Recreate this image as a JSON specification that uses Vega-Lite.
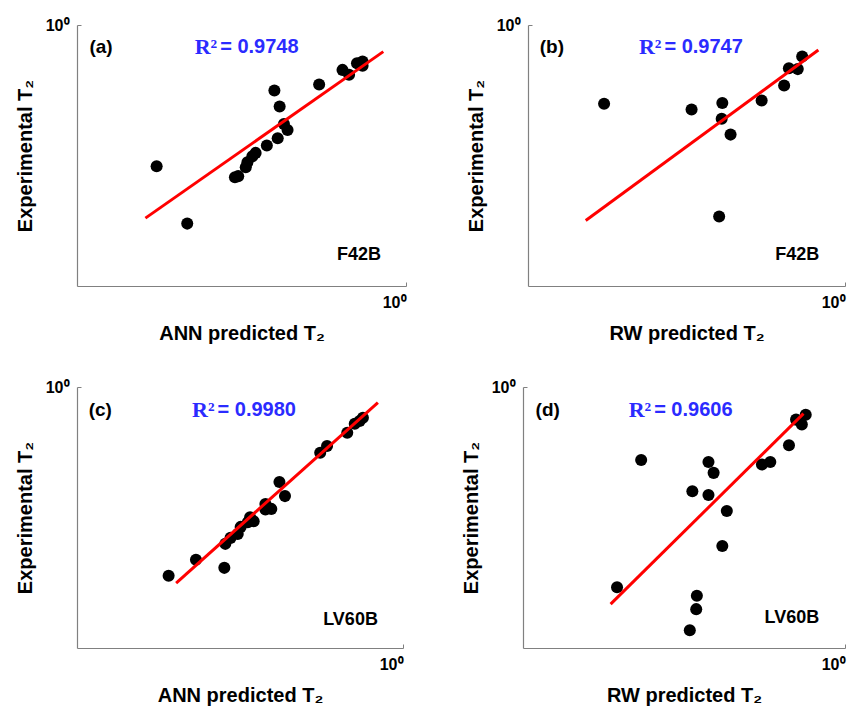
{
  "$schema": "https://vega.github.io/schema/vega-lite/v6.json",
  "background": "white",
  "padding": {"left": 15, "top": 17, "right": 5, "bottom": 5},
  "datasets": {
    "pts": [
      {"panel":"a","x":0.1746,"y":0.2877},{"panel":"a","x":0.2163,"y":0.1734},{"panel":"a","x":0.3020,"y":0.2612},{"panel":"a","x":0.3090,"y":0.2636},
      {"panel":"a","x":0.3258,"y":0.2851},{"panel":"a","x":0.3296,"y":0.2979},{"panel":"a","x":0.3412,"y":0.3141},{"panel":"a","x":0.3491,"y":0.3236},
      {"panel":"a","x":0.3776,"y":0.3451},{"panel":"a","x":0.4074,"y":0.3681},{"panel":"a","x":0.3981,"y":0.5610},{"panel":"a","x":0.4130,"y":0.4875},
      {"panel":"a","x":0.4256,"y":0.4178},{"panel":"a","x":0.4365,"y":0.3963},{"panel":"a","x":0.5445,"y":0.5916},{"panel":"a","x":0.6412,"y":0.6730},
      {"panel":"a","x":0.6714,"y":0.6442},{"panel":"a","x":0.7096,"y":0.7129},{"panel":"a","x":0.7379,"y":0.6982},{"panel":"a","x":0.7379,"y":0.7244},
      {"panel":"b","x":0.1738,"y":0.4989},{"panel":"b","x":0.3281,"y":0.4742},{"panel":"b","x":0.4102,"y":0.5023},{"panel":"b","x":0.4083,"y":0.4375},
      {"panel":"b","x":0.4355,"y":0.3802},{"panel":"b","x":0.4009,"y":0.1845},{"panel":"b","x":0.5458,"y":0.5140},{"panel":"b","x":0.6427,"y":0.5861},
      {"panel":"b","x":0.6653,"y":0.6823},{"panel":"b","x":0.7096,"y":0.6776},{"panel":"b","x":0.7328,"y":0.7568},
      {"panel":"c","x":0.1910,"y":0.1892},{"panel":"c","x":0.2317,"y":0.2178},{"panel":"c","x":0.2831,"y":0.2028},{"panel":"c","x":0.2851,"y":0.2506},
      {"panel":"c","x":0.2958,"y":0.2642},{"panel":"c","x":0.3112,"y":0.2735},{"panel":"c","x":0.3177,"y":0.2911},{"panel":"c","x":0.3342,"y":0.3034},
      {"panel":"c","x":0.3396,"y":0.3170},{"panel":"c","x":0.3483,"y":0.3062},{"panel":"c","x":0.3784,"y":0.3565},{"panel":"c","x":0.3784,"y":0.3396},
      {"panel":"c","x":0.3945,"y":0.3412},{"panel":"c","x":0.4178,"y":0.4325},{"panel":"c","x":0.4345,"y":0.3819},{"panel":"c","x":0.5572,"y":0.5598},
      {"panel":"c","x":0.5848,"y":0.5943},{"panel":"c","x":0.6745,"y":0.6683},{"panel":"c","x":0.7112,"y":0.7228},{"panel":"c","x":0.7362,"y":0.7413},
      {"panel":"c","x":0.7534,"y":0.7621},
      {"panel":"d","x":0.1959,"y":0.1710},{"panel":"d","x":0.2328,"y":0.5248},{"panel":"d","x":0.3296,"y":0.1169},{"panel":"d","x":0.3451,"y":0.1409},
      {"panel":"d","x":0.3467,"y":0.1585},{"panel":"d","x":0.3357,"y":0.3990},{"panel":"d","x":0.3767,"y":0.5164},{"panel":"d","x":0.3908,"y":0.4688},
      {"panel":"d","x":0.3767,"y":0.3855},{"panel":"d","x":0.4295,"y":0.3350},{"panel":"d","x":0.4159,"y":0.2460},{"panel":"d","x":0.5521,"y":0.5047},
      {"panel":"d","x":0.5861,"y":0.5164},{"panel":"d","x":0.6699,"y":0.5984},{"panel":"d","x":0.7047,"y":0.7499},{"panel":"d","x":0.7345,"y":0.7178},
      {"panel":"d","x":0.7551,"y":0.7834}
    ],
    "fit": [
      {"panel":"a","x":0.1614,"y":0.1820},{"panel":"a","x":0.8531,"y":0.7907},
      {"panel":"b","x":0.1521,"y":0.1782},{"panel":"b","x":0.8241,"y":0.8017},
      {"panel":"c","x":0.2014,"y":0.1774},{"panel":"c","x":0.8375,"y":0.8710},
      {"panel":"d","x":0.1871,"y":0.1472},{"panel":"d","x":0.7430,"y":0.7907}
    ],
    "ann": [
      {"panel":"a","kind":"tag","x":0.1091,"y":0.826,"text":"(a)"},
      {"panel":"a","kind":"r2s","x":0.2667,"y":0.826,"text":"R²"},
      {"panel":"a","kind":"r2v","x":0.2667,"y":0.826,"text":"= 0.9748"},
      {"panel":"a","kind":"name","x":0.8395,"y":0.1309,"text":"F42B"},
      {"panel":"b","kind":"tag","x":0.1089,"y":0.8204,"text":"(b)"},
      {"panel":"b","kind":"r2s","x":0.2636,"y":0.8204,"text":"R²"},
      {"panel":"b","kind":"r2v","x":0.2636,"y":0.8204,"text":"= 0.9747"},
      {"panel":"b","kind":"name","x":0.8299,"y":0.1312,"text":"F42B"},
      {"panel":"c","kind":"tag","x":0.1086,"y":0.8128,"text":"(c)"},
      {"panel":"c","kind":"r2s","x":0.2642,"y":0.8128,"text":"R²"},
      {"panel":"c","kind":"r2v","x":0.2642,"y":0.8128,"text":"= 0.9980"},
      {"panel":"c","kind":"name","x":0.8375,"y":0.1285,"text":"LV60B"},
      {"panel":"d","kind":"tag","x":0.1094,"y":0.8147,"text":"(d)"},
      {"panel":"d","kind":"r2s","x":0.2500,"y":0.8147,"text":"R²"},
      {"panel":"d","kind":"r2v","x":0.2500,"y":0.8147,"text":"= 0.9606"},
      {"panel":"d","kind":"name","x":0.8318,"y":0.1303,"text":"LV60B"}
    ]
  },
  "vconcat": [
    {
      "spacing": 59,
      "hconcat": [
        {
          "width": 329, "height": 261,
          "layer": [
            {"data":{"name":"pts"},"transform":[{"filter":"datum.panel==='a'"}],"mark":{"type":"circle","size":145,"color":"black","opacity":1},
             "encoding":{"x":{"field":"x","type":"quantitative","scale":{"type":"log","domain":[0.1,1],"nice":false},"axis":{"values":[1],"labelExpr":"'10⁰'","title":"ANN predicted T₂"}},
                         "y":{"field":"y","type":"quantitative","scale":{"type":"log","domain":[0.1,1],"nice":false},"axis":{"values":[1],"labelExpr":"'10⁰'","title":"Experimental T₂"}}}},
            {"data":{"name":"fit"},"transform":[{"filter":"datum.panel==='a'"}],"mark":{"type":"line","color":"#ff0000","strokeWidth":3},
             "encoding":{"x":{"field":"x","type":"quantitative"},"y":{"field":"y","type":"quantitative"}}},
            {"data":{"name":"ann"},"transform":[{"filter":"datum.panel==='a' && datum.kind==='tag'"}],"mark":{"type":"text","align":"left","baseline":"middle","font":"Liberation Sans","fontWeight":"bold","fontSize":19,"color":"black"},
             "encoding":{"x":{"field":"x","type":"quantitative"},"y":{"field":"y","type":"quantitative"},"text":{"field":"text"}}},
            {"data":{"name":"ann"},"transform":[{"filter":"datum.panel==='a' && datum.kind==='r2s'"}],"mark":{"type":"text","align":"right","baseline":"middle","font":"Liberation Serif","fontWeight":"bold","fontSize":22,"color":"#2b2bff"},
             "encoding":{"x":{"field":"x","type":"quantitative"},"y":{"field":"y","type":"quantitative"},"text":{"field":"text"}}},
            {"data":{"name":"ann"},"transform":[{"filter":"datum.panel==='a' && datum.kind==='r2v'"}],"mark":{"type":"text","align":"left","baseline":"middle","dx":3,"font":"Liberation Sans","fontWeight":"bold","fontSize":20,"color":"#2b2bff"},
             "encoding":{"x":{"field":"x","type":"quantitative"},"y":{"field":"y","type":"quantitative"},"text":{"field":"text"}}},
            {"data":{"name":"ann"},"transform":[{"filter":"datum.panel==='a' && datum.kind==='name'"}],"mark":{"type":"text","align":"right","baseline":"middle","font":"Liberation Sans","fontWeight":"bold","fontSize":18,"color":"black"},
             "encoding":{"x":{"field":"x","type":"quantitative"},"y":{"field":"y","type":"quantitative"},"text":{"field":"text"}}}
          ]
        },
        {
          "width": 317, "height": 261,
          "layer": [
            {"data":{"name":"pts"},"transform":[{"filter":"datum.panel==='b'"}],"mark":{"type":"circle","size":145,"color":"black","opacity":1},
             "encoding":{"x":{"field":"x","type":"quantitative","scale":{"type":"log","domain":[0.1,1],"nice":false},"axis":{"values":[1],"labelExpr":"'10⁰'","title":"RW predicted T₂"}},
                         "y":{"field":"y","type":"quantitative","scale":{"type":"log","domain":[0.1,1],"nice":false},"axis":{"values":[1],"labelExpr":"'10⁰'","title":"Experimental T₂"}}}},
            {"data":{"name":"fit"},"transform":[{"filter":"datum.panel==='b'"}],"mark":{"type":"line","color":"#ff0000","strokeWidth":3},
             "encoding":{"x":{"field":"x","type":"quantitative"},"y":{"field":"y","type":"quantitative"}}},
            {"data":{"name":"ann"},"transform":[{"filter":"datum.panel==='b' && datum.kind==='tag'"}],"mark":{"type":"text","align":"left","baseline":"middle","font":"Liberation Sans","fontWeight":"bold","fontSize":19,"color":"black"},
             "encoding":{"x":{"field":"x","type":"quantitative"},"y":{"field":"y","type":"quantitative"},"text":{"field":"text"}}},
            {"data":{"name":"ann"},"transform":[{"filter":"datum.panel==='b' && datum.kind==='r2s'"}],"mark":{"type":"text","align":"right","baseline":"middle","font":"Liberation Serif","fontWeight":"bold","fontSize":22,"color":"#2b2bff"},
             "encoding":{"x":{"field":"x","type":"quantitative"},"y":{"field":"y","type":"quantitative"},"text":{"field":"text"}}},
            {"data":{"name":"ann"},"transform":[{"filter":"datum.panel==='b' && datum.kind==='r2v'"}],"mark":{"type":"text","align":"left","baseline":"middle","dx":3,"font":"Liberation Sans","fontWeight":"bold","fontSize":20,"color":"#2b2bff"},
             "encoding":{"x":{"field":"x","type":"quantitative"},"y":{"field":"y","type":"quantitative"},"text":{"field":"text"}}},
            {"data":{"name":"ann"},"transform":[{"filter":"datum.panel==='b' && datum.kind==='name'"}],"mark":{"type":"text","align":"right","baseline":"middle","font":"Liberation Sans","fontWeight":"bold","fontSize":18,"color":"black"},
             "encoding":{"x":{"field":"x","type":"quantitative"},"y":{"field":"y","type":"quantitative"},"text":{"field":"text"}}}
          ]
        }
      ]
    },
    {
      "spacing": 57,
      "hconcat": [
        {
          "width": 326, "height": 261,
          "layer": [
            {"data":{"name":"pts"},"transform":[{"filter":"datum.panel==='c'"}],"mark":{"type":"circle","size":145,"color":"black","opacity":1},
             "encoding":{"x":{"field":"x","type":"quantitative","scale":{"type":"log","domain":[0.1,1],"nice":false},"axis":{"values":[1],"labelExpr":"'10⁰'","title":"ANN predicted T₂"}},
                         "y":{"field":"y","type":"quantitative","scale":{"type":"log","domain":[0.1,1],"nice":false},"axis":{"values":[1],"labelExpr":"'10⁰'","title":"Experimental T₂"}}}},
            {"data":{"name":"fit"},"transform":[{"filter":"datum.panel==='c'"}],"mark":{"type":"line","color":"#ff0000","strokeWidth":3},
             "encoding":{"x":{"field":"x","type":"quantitative"},"y":{"field":"y","type":"quantitative"}}},
            {"data":{"name":"ann"},"transform":[{"filter":"datum.panel==='c' && datum.kind==='tag'"}],"mark":{"type":"text","align":"left","baseline":"middle","font":"Liberation Sans","fontWeight":"bold","fontSize":19,"color":"black"},
             "encoding":{"x":{"field":"x","type":"quantitative"},"y":{"field":"y","type":"quantitative"},"text":{"field":"text"}}},
            {"data":{"name":"ann"},"transform":[{"filter":"datum.panel==='c' && datum.kind==='r2s'"}],"mark":{"type":"text","align":"right","baseline":"middle","font":"Liberation Serif","fontWeight":"bold","fontSize":22,"color":"#2b2bff"},
             "encoding":{"x":{"field":"x","type":"quantitative"},"y":{"field":"y","type":"quantitative"},"text":{"field":"text"}}},
            {"data":{"name":"ann"},"transform":[{"filter":"datum.panel==='c' && datum.kind==='r2v'"}],"mark":{"type":"text","align":"left","baseline":"middle","dx":3,"font":"Liberation Sans","fontWeight":"bold","fontSize":20,"color":"#2b2bff"},
             "encoding":{"x":{"field":"x","type":"quantitative"},"y":{"field":"y","type":"quantitative"},"text":{"field":"text"}}},
            {"data":{"name":"ann"},"transform":[{"filter":"datum.panel==='c' && datum.kind==='name'"}],"mark":{"type":"text","align":"right","baseline":"middle","font":"Liberation Sans","fontWeight":"bold","fontSize":18,"color":"black"},
             "encoding":{"x":{"field":"x","type":"quantitative"},"y":{"field":"y","type":"quantitative"},"text":{"field":"text"}}}
          ]
        },
        {
          "width": 322, "height": 261,
          "layer": [
            {"data":{"name":"pts"},"transform":[{"filter":"datum.panel==='d'"}],"mark":{"type":"circle","size":145,"color":"black","opacity":1},
             "encoding":{"x":{"field":"x","type":"quantitative","scale":{"type":"log","domain":[0.1,1],"nice":false},"axis":{"values":[1],"labelExpr":"'10⁰'","title":"RW predicted T₂"}},
                         "y":{"field":"y","type":"quantitative","scale":{"type":"log","domain":[0.1,1],"nice":false},"axis":{"values":[1],"labelExpr":"'10⁰'","title":"Experimental T₂"}}}},
            {"data":{"name":"fit"},"transform":[{"filter":"datum.panel==='d'"}],"mark":{"type":"line","color":"#ff0000","strokeWidth":3},
             "encoding":{"x":{"field":"x","type":"quantitative"},"y":{"field":"y","type":"quantitative"}}},
            {"data":{"name":"ann"},"transform":[{"filter":"datum.panel==='d' && datum.kind==='tag'"}],"mark":{"type":"text","align":"left","baseline":"middle","font":"Liberation Sans","fontWeight":"bold","fontSize":19,"color":"black"},
             "encoding":{"x":{"field":"x","type":"quantitative"},"y":{"field":"y","type":"quantitative"},"text":{"field":"text"}}},
            {"data":{"name":"ann"},"transform":[{"filter":"datum.panel==='d' && datum.kind==='r2s'"}],"mark":{"type":"text","align":"right","baseline":"middle","font":"Liberation Serif","fontWeight":"bold","fontSize":22,"color":"#2b2bff"},
             "encoding":{"x":{"field":"x","type":"quantitative"},"y":{"field":"y","type":"quantitative"},"text":{"field":"text"}}},
            {"data":{"name":"ann"},"transform":[{"filter":"datum.panel==='d' && datum.kind==='r2v'"}],"mark":{"type":"text","align":"left","baseline":"middle","dx":3,"font":"Liberation Sans","fontWeight":"bold","fontSize":20,"color":"#2b2bff"},
             "encoding":{"x":{"field":"x","type":"quantitative"},"y":{"field":"y","type":"quantitative"},"text":{"field":"text"}}},
            {"data":{"name":"ann"},"transform":[{"filter":"datum.panel==='d' && datum.kind==='name'"}],"mark":{"type":"text","align":"right","baseline":"middle","font":"Liberation Sans","fontWeight":"bold","fontSize":18,"color":"black"},
             "encoding":{"x":{"field":"x","type":"quantitative"},"y":{"field":"y","type":"quantitative"},"text":{"field":"text"}}}
          ]
        }
      ]
    }
  ],
  "spacing": 36,
  "config": {
    "view": {"stroke": null},
    "axis": {
      "grid": false,
      "domainColor": "#808080",
      "domainWidth": 1.2,
      "tickColor": "#808080",
      "tickSize": -4,
      "labelFont": "Liberation Sans",
      "labelFontSize": 16,
      "labelFontWeight": "bold",
      "labelColor": "black",
      "titleFont": "Liberation Sans",
      "titleFontSize": 20,
      "titleFontWeight": "bold",
      "titleColor": "black"
    },
    "axisX": {"labelPadding": 12, "titlePadding": 13},
    "axisY": {"labelPadding": 12, "titlePadding": 10, "labelBaseline": "middle"}
  }
}
